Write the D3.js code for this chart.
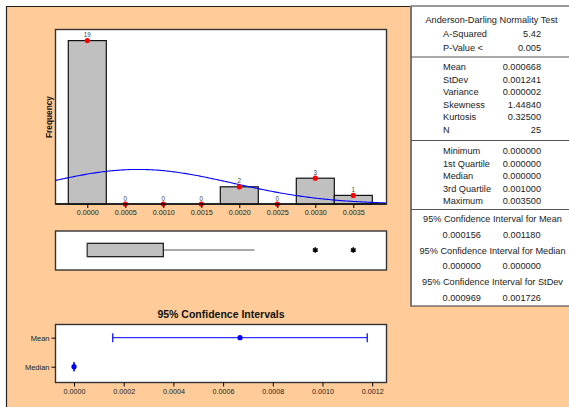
<!DOCTYPE html>
<html>
<head>
<meta charset="utf-8">
<script src="https://cdn.jsdelivr.net/npm/d3@7"></script>
<style>
  body { margin: 0; background: #fff; }
  svg { display: block; font-family: "Liberation Sans", Arial, sans-serif; }
  .tick text { fill: #222; }
</style>
</head>
<body>
<div id="chart"></div>
<script>
// histogram bins (centre of bin) and counts
const binCenters = [0.0000, 0.0005, 0.0010, 0.0015, 0.0020, 0.0025, 0.0030, 0.0035];
const binCounts = [19, 0, 0, 0, 2, 0, 3, 1];
const binWidth = 0.0005;
const histTicks = [0.0000, 0.0005, 0.0010, 0.0015, 0.0020, 0.0025, 0.0030, 0.0035];

// summary stats
const statMean = 0.000668;
const statStDev = 0.001241;
const statN = 25;

// boxplot: q1, median, q3, whisker ends, outliers
const boxStats = [0.0000, 0.0000, 0.0010];
const whiskers = [0.0000, 0.0022];
const outliers = [0.0030, 0.0035];

// 95% confidence intervals
const ciNames = ['Mean', 'Median'];
const ciCentre = [0.000668, 0.000000];
const ciLow = [0.000156, 0.000000];
const ciHigh = [0.001180, 0.000000];
const ciTicks = [0.0000, 0.0002, 0.0004, 0.0006, 0.0008, 0.0010, 0.0012];

// table text
const adRows = [['A-Squared', '5.42'], ['P-Value <', '0.005']];
const momentRows = [['Mean', '0.000668'], ['StDev', '0.001241'], ['Variance', '0.000002'],
    ['Skewness', '1.44840'], ['Kurtosis', '0.32500'], ['N', '25']];
const quartileRows = [['Minimum', '0.000000'], ['1st Quartile', '0.000000'], ['Median', '0.000000'],
    ['3rd Quartile', '0.001000'], ['Maximum', '0.003500']];
const ciRows = [['95% Confidence Interval for Mean', '0.000156', '0.001180'],
    ['95% Confidence Interval for Median', '0.000000', '0.000000'],
    ['95% Confidence Interval for StDev', '0.000969', '0.001726']];

const W = 569, H = 407;
const svg = d3.select('#chart').append('svg')
    .attr('width', W)
    .attr('height', H);

// peach background panel
svg.append('rect')
    .attr('x', 6).attr('y', 6)
    .attr('width', W - 6).attr('height', H - 6)
    .style('fill', '#FFCC99');
svg.append('path')
    .attr('d', 'M6.5,' + H + 'V6.5H' + W)
    .style('fill', 'none').style('stroke', '#222').style('stroke-width', 1.2);

const frameL = 55.5, frameR = 386.5;

function frame(y0, y1) {
    svg.append('rect')
        .attr('x', frameL).attr('y', y0)
        .attr('width', frameR - frameL).attr('height', y1 - y0)
        .style('fill', '#fff')
        .style('stroke', '#333')
        .style('stroke-width', 1.4);
}

//=============== Histogram ===============
const hTop = 29.5, hBot = 204;
frame(hTop, hBot);

// 0 -> 87.3px, 0.0035 -> 353.3px
const pxPerUnit = (353.3 - 87.3) / 0.0035;
const x = d3.scaleLinear()
    .domain([(frameL - 87.3) / pxPerUnit, (frameR - 87.3) / pxPerUnit])
    .range([frameL, frameR]);
const y = d3.scaleLinear()
    .domain([0, (hBot - hTop) / 8.6])
    .range([hBot, hTop]);

const hist = svg.append('g');
const bins = binCenters.map((c, i) => ({ c: c, n: binCounts[i] }));

hist.selectAll('.bar')
    .data(bins.filter(d => d.n > 0))
    .enter().append('rect')
    .attr('class', 'bar')
    .attr('x', d => x(d.c - binWidth / 2))
    .attr('y', d => y(d.n))
    .attr('width', d => x(d.c + binWidth / 2) - x(d.c - binWidth / 2))
    .attr('height', d => y(0) - y(d.n))
    .style('fill', '#C0C0C0')
    .style('stroke', '#111')
    .style('stroke-width', 1.2);

// fitted normal curve from mean / stdev in the table
const normal = d3.range(x.domain()[0], x.domain()[1] + 1e-6, 0.00002).map(v => {
    let z = (v - statMean) / statStDev;
    return [v, statN * binWidth * Math.exp(-0.5 * z * z) / (statStDev * Math.sqrt(2 * Math.PI))];
});
hist.append('path')
    .datum(normal)
    .attr('d', d3.line().x(d => x(d[0])).y(d => y(d[1])))
    .style('fill', 'none')
    .style('stroke', '#0000FF')
    .style('stroke-width', 1.1);

hist.selectAll('.dot')
    .data(bins)
    .enter().append('circle')
    .attr('cx', d => x(d.c))
    .attr('cy', d => y(d.n))
    .attr('r', 2.6)
    .style('fill', '#FF0000');

hist.selectAll('.count')
    .data(bins)
    .enter().append('text')
    .attr('x', d => x(d.c))
    .attr('y', d => y(d.n) - 3.5)
    .attr('text-anchor', 'middle')
    .style('font-size', '6.3px')
    .style('fill', '#444')
    .text(d => d.n);

hist.append('line')
    .attr('x1', frameL).attr('x2', frameR)
    .attr('y1', hBot).attr('y2', hBot)
    .style('stroke', '#111').style('stroke-width', 1.6);

const xAxis = svg.append('g')
    .attr('transform', 'translate(0,' + hBot + ')')
    .call(d3.axisBottom(x).tickValues(histTicks).tickFormat(d3.format('.4f')).tickSize(4).tickPadding(2));
xAxis.select('.domain').remove();
xAxis.selectAll('text').style('font-size', '7.2px');

svg.append('text')
    .attr('transform', 'translate(51.5,117) rotate(-90)')
    .attr('text-anchor', 'middle')
    .style('font-size', '8.3px')
    .style('font-weight', 'bold')
    .style('fill', '#111')
    .text('Frequency');

//=============== Boxplot ===============
const bTop = 231, bBot = 270, bMid = 250;
frame(bTop, bBot);
const box = svg.append('g');

box.append('line')
    .attr('x1', x(boxStats[2])).attr('x2', x(whiskers[1]))
    .attr('y1', bMid).attr('y2', bMid)
    .style('stroke', '#555').style('stroke-width', 1.2);
box.append('rect')
    .attr('x', x(boxStats[0])).attr('y', bMid - 6.7)
    .attr('width', x(boxStats[2]) - x(boxStats[0])).attr('height', 13.4)
    .style('fill', '#C0C0C0')
    .style('stroke', '#111')
    .style('stroke-width', 1.2);
box.append('line')
    .attr('x1', x(boxStats[1])).attr('x2', x(boxStats[1]))
    .attr('y1', bMid - 6.7).attr('y2', bMid + 6.7)
    .style('stroke', '#555').style('stroke-width', 1);

box.selectAll('.outlier')
    .data(outliers)
    .enter().append('path')
    .attr('transform', d => 'translate(' + x(d) + ',' + bMid + ')')
    .attr('d', d3.symbol().type(d3.symbolAsterisk).size(22))
    .style('fill', 'none')
    .style('stroke', '#000')
    .style('stroke-width', 1.6);

//=============== Confidence intervals ===============
svg.append('text')
    .attr('x', (frameL + frameR) / 2)
    .attr('y', 318)
    .attr('text-anchor', 'middle')
    .style('font-size', '10.5px')
    .style('font-weight', 'bold')
    .style('fill', '#111')
    .text('95% Confidence Intervals');

const cTop = 324.5, cBot = 382.5;
frame(cTop, cBot);

// 0 -> 74px, 0.0012 -> 372.2px
const ciPx = (372.2 - 74) / 0.0012;
const xc = d3.scaleLinear()
    .domain([(frameL - 74) / ciPx, (frameR - 74) / ciPx])
    .range([frameL, frameR]);
const yc = d3.scalePoint()
    .domain(ciNames)
    .range([337.7, 366.7]);

const ci = svg.append('g');
const ciData = ciNames.map((n, i) => ({ name: n, c: ciCentre[i], lo: ciLow[i], hi: ciHigh[i] }));

ci.selectAll('.ciline')
    .data(ciData)
    .enter().append('line')
    .attr('x1', d => xc(d.lo)).attr('x2', d => xc(d.hi))
    .attr('y1', d => yc(d.name)).attr('y2', d => yc(d.name))
    .style('stroke', '#0000FF').style('stroke-width', 1);
ci.selectAll('.cap')
    .data(ciData.flatMap(d => [{ v: d.lo, name: d.name }, { v: d.hi, name: d.name }]))
    .enter().append('line')
    .attr('x1', d => xc(d.v)).attr('x2', d => xc(d.v))
    .attr('y1', d => yc(d.name) - 4.5).attr('y2', d => yc(d.name) + 4.5)
    .style('stroke', '#0000FF').style('stroke-width', 1.2);
ci.selectAll('.cidot')
    .data(ciData)
    .enter().append('circle')
    .attr('cx', d => xc(d.c))
    .attr('cy', d => yc(d.name))
    .attr('r', 2.6)
    .style('fill', '#0000FF');

const ciAxis = svg.append('g')
    .attr('transform', 'translate(0,' + cBot + ')')
    .call(d3.axisBottom(xc).tickValues(ciTicks).tickFormat(d3.format('.4f')).tickSize(4).tickPadding(2));
ciAxis.select('.domain').remove();
ciAxis.selectAll('text').style('font-size', '7.2px');

const ciYAxis = svg.append('g')
    .attr('transform', 'translate(' + frameL + ',0)')
    .call(d3.axisLeft(yc).tickSize(4).tickPadding(2));
ciYAxis.select('.domain').remove();
ciYAxis.selectAll('text').style('font-size', '7.5px');

//=============== Stats table ===============
const tL = 411, tTop = 6, tBot = 306;
const tbl = svg.append('g').style('fill', '#222').style('font-size', '9.2px');
tbl.append('rect')
    .attr('x', tL).attr('y', tTop)
    .attr('width', W - tL + 2).attr('height', tBot - tTop)
    .style('fill', '#fff')
    .style('stroke', '#333')
    .style('stroke-width', 1);
tbl.append('line')
    .attr('x1', tL).attr('x2', tL).attr('y1', tTop).attr('y2', tBot + 0.5)
    .style('stroke', '#777').style('stroke-width', 2);

[57, 140.5, 209.5].forEach(s => {
    tbl.append('line')
        .attr('x1', tL).attr('x2', W)
        .attr('y1', s).attr('y2', s)
        .style('stroke', '#555').style('stroke-width', 1);
});

const midX = 491.5, labX = 443, valX = 541;
tbl.append('text')
    .attr('x', midX).attr('y', 22.5)
    .attr('text-anchor', 'middle')
    .text('Anderson-Darling Normality Test');

function rows(data, y0, step) {
    data.forEach((r, i) => {
        tbl.append('text').attr('x', labX).attr('y', y0 + i * step + 3).text(r[0]);
        tbl.append('text').attr('x', valX).attr('y', y0 + i * step + 3)
            .attr('text-anchor', 'end').text(r[1]);
    });
}
rows(adRows, 34, 14);
rows(momentRows, 67, 12.6);
rows(quartileRows, 151, 12.5);

ciRows.forEach((r, i) => {
    let yy = 219 + i * 31.7;
    tbl.append('text').attr('x', midX + 1).attr('y', yy + 3)
        .attr('text-anchor', 'middle').text(r[0]);
    tbl.append('text').attr('x', 461.7).attr('y', yy + 15.7 + 3)
        .attr('text-anchor', 'middle').text(r[1]);
    tbl.append('text').attr('x', 521.7).attr('y', yy + 15.7 + 3)
        .attr('text-anchor', 'middle').text(r[2]);
});
</script>
</body>
</html>
